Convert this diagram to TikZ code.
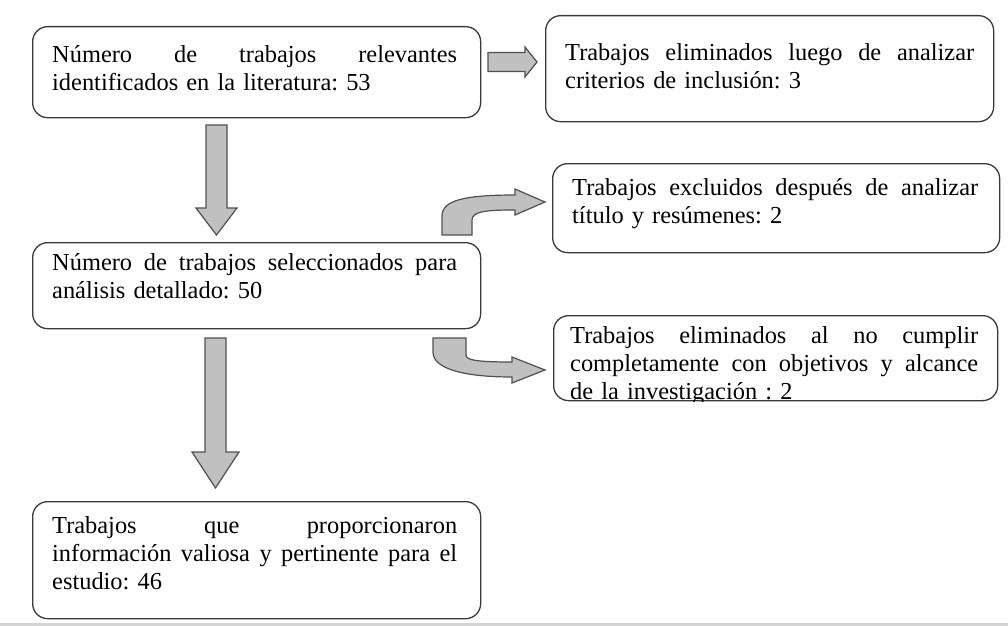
\documentclass[tikz,border=0pt]{standalone}
\usepackage{fontspec}
\setmainfont{Liberation Serif}
\frenchspacing
\definecolor{boxc}{HTML}{3A3A3A}
\definecolor{arrfill}{HTML}{C0C0C0}
\definecolor{arrdraw}{HTML}{505050}
\definecolor{rulec}{HTML}{D2D2D2}
\newcommand{\jline}[2]{\leavevmode\hbox to #1pt{\spaceskip=\fontdimen2\font plus 1fil\relax #2}}
\begin{document}
\begin{tikzpicture}[x=1pt,y=-1pt,
  box/.style={draw=boxc, line width=1.3pt, rounded corners=15pt, fill=white, inner sep=0pt, anchor=north west},
  txt/.style={anchor=base west, inner sep=0pt, align=left, font=\fontsize{24.4}{28}\selectfont\frenchspacing, text=black},
  blk/.style={fill=arrfill, draw=arrdraw, line width=1.2pt, line join=miter}]
\useasboundingbox (0,0) rectangle (1008,626);
\fill[rulec] (0,623) rectangle (1008,626);

% boxes
\node[box, minimum width=448pt, minimum height=91pt] (b1) at (32,26) {};
\node[box, minimum width=448pt, minimum height=106pt] (b2) at (545,15) {};
\node[box, minimum width=447pt, minimum height=89pt] (b3) at (552,163) {};
\node[box, minimum width=448pt, minimum height=86pt] (b4) at (32,242) {};
\node[box, minimum width=444pt, minimum height=85pt] (b5) at (553,315) {};
\node[box, minimum width=448pt, minimum height=117pt] (b6) at (32,501) {};

% texts
\node[txt, text width=405pt] (t1) at (52,63) {\jline{405}{Número de trabajos relevantes}\\identificados en la literatura: 53};
\node[txt, text width=409pt] (t2) at (565,60) {\jline{409}{Trabajos eliminados luego de analizar}\\criterios de inclusión: 3};
\node[txt, text width=406pt] (t3) at (572,195) {\jline{406}{Trabajos excluidos después de analizar}\\título y resúmenes: 2};
\node[txt, text width=405pt] (t4) at (52,270) {\jline{405}{Número de trabajos seleccionados para}\\análisis detallado: 50};
\begin{scope}
\clip[rounded corners=15pt] (b5.north west) rectangle (b5.south east);
\node[txt, text width=408pt] (t5) at (570,343) {\jline{408}{Trabajos eliminados al no cumplir}\\\jline{408}{completamente con objetivos y alcance}\\de la investigación : 2};
\end{scope}
\node[txt, text width=405pt] (t6) at (52,533) {\jline{405}{Trabajos que proporcionaron}\\\jline{405}{información valiosa y pertinente para el}\\estudio: 46};

% block arrows
\draw[blk] (488,52.5) -- (525,52.5) -- (525,47) -- (537,62) -- (525,77) -- (525,71.5) -- (488,71.5) -- cycle;
\draw[blk] (206,125) -- (227,125) -- (227,208) -- (237,208) -- (216.5,235) -- (196,208) -- (206,208) -- cycle;
\draw[blk] (205,338) -- (226,338) -- (226,452) -- (239,452) -- (215.5,488) -- (192,452) -- (205,452) -- cycle;
\draw[blk] (442,235) -- (442,216) .. controls (442,201) and (462,195) .. (515,195) -- (515,189) -- (545,202) -- (515,215) -- (515,210) .. controls (488,210) and (472,211) .. (472,220) -- (472,235) -- cycle;
\draw[blk] (433,338) -- (466,338) -- (466,355) .. controls (466,360) and (476,362) .. (512,362) -- (512,357) -- (545,370) -- (512,383) -- (512,377) .. controls (468,377) and (433,370) .. (433,352) -- cycle;
\end{tikzpicture}
\end{document}
